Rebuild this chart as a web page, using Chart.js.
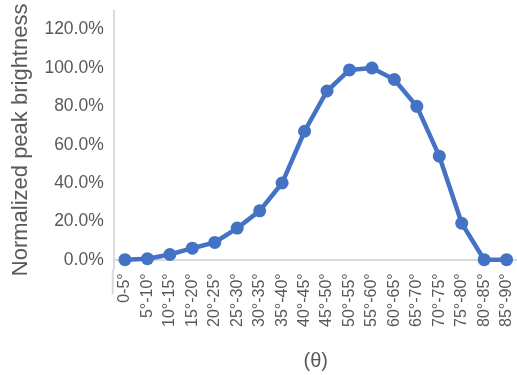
<!DOCTYPE html>
<html>
<head>
<meta charset="utf-8">
<script src="https://cdn.jsdelivr.net/npm/chart.js@4"></script>
<style>
  html, body { margin: 0; padding: 0; background: #fff; overflow: hidden; }
  #wrap { position: relative; top: -10px; width: 530px; height: 385px; }
</style>
</head>
<body>
<div id="wrap"><canvas id="grafica"></canvas></div>
<script>
// datos
const angulos = ['0-5°', '5°-10°', '10°-15°', '15°-20°', '20°-25°', '25°-30°', '30°-35°', '35°-40°', '40°-45°',
  '45°-50°', '50°-55°', '55°-60°', '60°-65°', '65°-70°', '70°-75°', '75°-80°', '80°-85°', '85°-90°'];
const brillo = [0, 0.005, 0.027, 0.06, 0.09, 0.165, 0.255, 0.40, 0.67, 0.88, 0.99, 1.0, 0.94, 0.80, 0.54, 0.19, 0, 0];
const ticksY = [0, 0.2, 0.4, 0.6, 0.8, 1.0, 1.2];
const finEje = -0.18; // hasta donde baja la linea del eje vertical

const gris = '#595959';
const fuente = "'Liberation Sans', Arial, sans-serif";

// prolonga la linea del eje Y por debajo de las etiquetas, como en Excel
const alargarEje = {
  id: 'alargarEje',
  afterDraw(chart) {
    const ctx = chart.ctx;
    const y = chart.scales.y;
    ctx.save();
    ctx.strokeStyle = '#d9d9d9';
    ctx.lineWidth = 2;
    ctx.beginPath();
    ctx.moveTo(y.right - 1, chart.chartArea.bottom);
    ctx.lineTo(y.right - 1, y.getPixelForValue(finEje));
    ctx.stroke();
    ctx.restore();
  }
};

new Chart(document.getElementById('grafica'), {
  type: 'line',
  data: {
    labels: angulos,
    datasets: [{
      data: brillo,
      borderColor: '#4472C4',
      backgroundColor: '#4472C4',
      borderWidth: 4.5,
      pointRadius: 6.5,
      pointBorderWidth: 0,
      tension: 0
    }]
  },
  options: {
    responsive: true,
    maintainAspectRatio: false,
    animation: false,
    layout: { padding: { top: 0, right: 0, bottom: 2, left: 8 } },
    plugins: { legend: { display: false }, tooltip: { enabled: false } },
    scales: {
      x: {
        offset: true,
        grid: { display: false, drawTicks: false },
        border: { display: false },
        ticks: {
          color: gris,
          font: { family: fuente, size: 16 },
          minRotation: 90,
          maxRotation: 90,
          autoSkip: false,
          padding: 4
        },
        title: {
          display: true,
          text: '(θ)',
          color: gris,
          font: { family: fuente, size: 20 },
          padding: { top: 18, bottom: 0 }
        }
      },
      y: {
        min: -0.05,
        max: 1.3,
        afterBuildTicks: (eje) => { eje.ticks = ticksY.map(v => ({ value: v })); },
        grid: {
          drawTicks: false,
          color: (ctx) => (ctx.tick && ctx.tick.value === 0 ? '#d9d9d9' : 'rgba(0,0,0,0)'),
          lineWidth: 2
        },
        border: { display: true, color: '#d9d9d9', width: 2 },
        ticks: {
          color: gris,
          font: { family: fuente, size: 17.5 },
          padding: 10,
          callback: (v) => (v * 100).toFixed(1) + '%'
        },
        title: {
          display: true,
          text: 'Normalized peak brightness',
          color: gris,
          font: { family: fuente, size: 22 },
          padding: { top: 0, bottom: 0 }
        }
      }
    }
  },
  plugins: [alargarEje]
});
</script>
</body>
</html>
